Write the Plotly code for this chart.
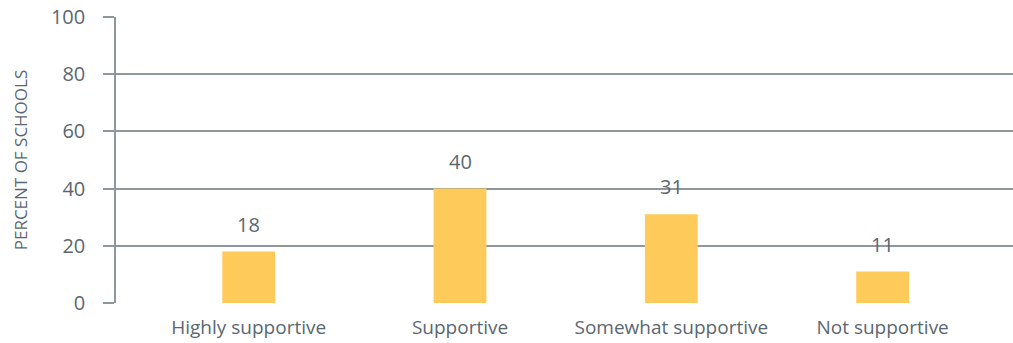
import plotly.graph_objects as go

# Survey responses: share of schools by level of support
categories = ["Highly supportive", "Supportive", "Somewhat supportive", "Not supportive"]
percent_of_schools = [18, 40, 31, 11]
y_ticks = [0, 20, 40, 60, 80, 100]

BAR_COLOR = "#FECB5B"
TEXT_COLOR = "#5B6770"
GRID_COLOR = "#8E979D"
FONT = "Open Sans, Noto Sans, sans-serif"

fig = go.Figure()
fig.add_trace(go.Bar(
    x=categories,
    y=percent_of_schools,
    width=0.25,
    marker=dict(color=BAR_COLOR, line=dict(width=0)),
    textposition="none",
    hoverinfo="x+y",
))

# Value labels sitting above each bar
for cat, val in zip(categories, percent_of_schools):
    fig.add_annotation(
        x=cat, y=val, text=str(val), showarrow=False,
        yanchor="bottom", yshift=12,
        font=dict(family=FONT, size=20, color=TEXT_COLOR),
    )

fig.update_layout(
    width=1013, height=343,
    margin=dict(l=116, r=0, t=17, b=40),
    paper_bgcolor="white", plot_bgcolor="white",
    showlegend=False,
    font=dict(family=FONT, color=TEXT_COLOR),
    xaxis=dict(
        type="category",
        range=[-0.628, 3.617],
        showgrid=False, zeroline=False, showline=False,
        ticks="", ticklabelstandoff=11,
        tickfont=dict(family=FONT, size=19, color=TEXT_COLOR),
    ),
    yaxis=dict(
        range=[0, 100],
        tickvals=y_ticks,
        ticks="outside", ticklen=11, tickwidth=1.5, tickcolor=GRID_COLOR,
        ticklabelstandoff=14,
        tickfont=dict(family=FONT, size=20, color=TEXT_COLOR),
        showgrid=True, gridcolor=GRID_COLOR, gridwidth=1.5,
        zeroline=False,
        showline=True, linecolor=GRID_COLOR, linewidth=1.5,
        title=dict(text="PERCENT OF SCHOOLS", standoff=19,
                   font=dict(family=FONT, size=17, color=TEXT_COLOR)),
    ),
)

fig.write_html("out.html")
